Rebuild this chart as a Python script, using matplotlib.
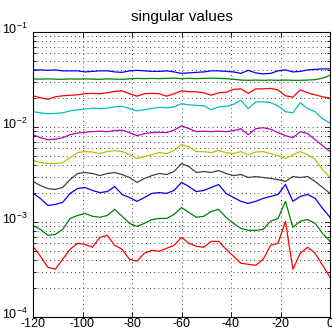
import numpy as np
import matplotlib
matplotlib.use('Agg')
import matplotlib.pyplot as plt
from matplotlib.ticker import FixedLocator, FixedFormatter, LogLocator, NullFormatter
from matplotlib.transforms import ScaledTranslation

plt.rcParams['font.family'] = ['Liberation Sans', 'DejaVu Sans']
plt.rcParams['axes.unicode_minus'] = False

# sample positions (lag)
x = [-120, -117, -114, -111, -108, -105, -102, -99, -96, -93, -90,
     -87, -84, -81, -78, -75, -72, -69, -66, -63, -60,
     -57, -54, -51, -48, -45, -42, -39, -36, -33, -30,
     -27, -24, -21, -18, -15, -12, -9, -6, -3, 0]

sv1 = [0.0399, 0.0399, 0.0395, 0.0399, 0.0390, 0.0390, 0.0390, 0.0380, 0.0385, 0.0390, 0.0390,
       0.0380, 0.0376, 0.0390, 0.0395, 0.0390, 0.0385, 0.0385, 0.0390, 0.0380, 0.0367,
       0.0371, 0.0376, 0.0380, 0.0390, 0.0390, 0.0385, 0.0380, 0.0367, 0.0395, 0.0371,
       0.0362, 0.0367, 0.0390, 0.0399, 0.0380, 0.0385, 0.0399, 0.0404, 0.0409, 0.0409]
sv2 = [0.0321, 0.0319, 0.0321, 0.0319, 0.0318, 0.0321, 0.0319, 0.0321, 0.0319, 0.0318, 0.0321,
       0.0319, 0.0318, 0.0321, 0.0325, 0.0323, 0.0325, 0.0323, 0.0325, 0.0327, 0.0323,
       0.0325, 0.0323, 0.0325, 0.0327, 0.0325, 0.0323, 0.0318, 0.0312, 0.0310, 0.0312,
       0.0310, 0.0312, 0.0310, 0.0312, 0.0310, 0.0310, 0.0312, 0.0315, 0.0327, 0.0350]
sv3 = [0.0213, 0.0203, 0.0196, 0.0208, 0.0213, 0.0216, 0.0218, 0.0224, 0.0226, 0.0224, 0.0229,
       0.0237, 0.0240, 0.0224, 0.0211, 0.0224, 0.0226, 0.0224, 0.0211, 0.0224, 0.0240,
       0.0235, 0.0235, 0.0229, 0.0216, 0.0229, 0.0232, 0.0249, 0.0252, 0.0226, 0.0252,
       0.0252, 0.0255, 0.0246, 0.0213, 0.0206, 0.0246, 0.0229, 0.0218, 0.0208, 0.0201]
sv4 = [0.0145, 0.0141, 0.0138, 0.0139, 0.0141, 0.0148, 0.0152, 0.0154, 0.0158, 0.0156, 0.0158,
       0.0163, 0.0165, 0.0156, 0.0148, 0.0152, 0.0156, 0.0161, 0.0159, 0.0163, 0.0176,
       0.0171, 0.0169, 0.0167, 0.0152, 0.0163, 0.0165, 0.0173, 0.0191, 0.0156, 0.0184,
       0.0184, 0.0180, 0.0167, 0.0145, 0.0141, 0.0180, 0.0156, 0.0145, 0.0122, 0.0110]
sv5 = [0.00830, 0.00772, 0.00736, 0.00745, 0.00772, 0.00830, 0.00862, 0.00882, 0.00893, 0.00904, 0.00893,
       0.00915, 0.00926, 0.00872, 0.00810, 0.00851, 0.00872, 0.00882, 0.00872, 0.00926, 0.0103,
       0.00960, 0.00893, 0.00904, 0.00893, 0.00904, 0.00893, 0.00915, 0.00960, 0.00830, 0.00960,
       0.00983, 0.00948, 0.00872, 0.00810, 0.00772, 0.00893, 0.00851, 0.00736, 0.00636, 0.00551]
sv6 = [0.00443, 0.00422, 0.00412, 0.00412, 0.00422, 0.00476, 0.00538, 0.00551, 0.00545, 0.00525, 0.00551,
       0.00565, 0.00551, 0.00512, 0.00465, 0.00488, 0.00512, 0.00538, 0.00525, 0.00565, 0.00652,
       0.00621, 0.00551, 0.00551, 0.00538, 0.00565, 0.00538, 0.00525, 0.00551, 0.00512, 0.00545,
       0.00551, 0.00525, 0.00500, 0.00465, 0.00512, 0.00551, 0.00512, 0.00454, 0.00356, 0.00294]
sv7 = [0.00267, 0.00242, 0.00225, 0.00220, 0.00231, 0.00280, 0.00324, 0.00332, 0.00324, 0.00308, 0.00324,
       0.00332, 0.00316, 0.00294, 0.00261, 0.00287, 0.00308, 0.00324, 0.00316, 0.00340, 0.00412,
       0.00383, 0.00332, 0.00340, 0.00332, 0.00348, 0.00324, 0.00308, 0.00316, 0.00294, 0.00301,
       0.00294, 0.00287, 0.00280, 0.00267, 0.00301, 0.00294, 0.00301, 0.00267, 0.00231, 0.00200]
sv8 = [0.00200, 0.00177, 0.00149, 0.00153, 0.00161, 0.00200, 0.00225, 0.00231, 0.00215, 0.00204, 0.00209,
       0.00236, 0.00195, 0.00181, 0.00165, 0.00181, 0.00200, 0.00204, 0.00200, 0.00215, 0.00261,
       0.00236, 0.00209, 0.00215, 0.00231, 0.00248, 0.00200, 0.00181, 0.00165, 0.00157, 0.00165,
       0.00177, 0.00186, 0.00195, 0.00248, 0.00165, 0.00186, 0.00195, 0.00177, 0.00139, 0.00112]
sv9 = [0.000921, 0.000836, 0.000723, 0.000741, 0.000836, 0.00109, 0.00117, 0.00123, 0.00115, 0.00112, 0.00117,
       0.00136, 0.00115, 0.000967, 0.000899, 0.000967, 0.00106, 0.00109, 0.00109, 0.00120, 0.00142,
       0.00126, 0.00112, 0.00115, 0.00129, 0.00136, 0.00112, 0.000967, 0.000857, 0.000817, 0.000817,
       0.000836, 0.00102, 0.00109, 0.00165, 0.000878, 0.00102, 0.00106, 0.000967, 0.000760, 0.000626]
sv10 = [0.000555, 0.000436, 0.000334, 0.000318, 0.000405, 0.000516, 0.000597, 0.000582, 0.000542, 0.000689, 0.000723,
        0.000569, 0.000516, 0.000405, 0.000386, 0.000469, 0.000504, 0.000492, 0.000529, 0.000569, 0.000689,
        0.000597, 0.000555, 0.000542, 0.000626, 0.000626, 0.000516, 0.000436, 0.000368, 0.000359, 0.000350,
        0.000405, 0.000569, 0.000597, 0.001015, 0.000318, 0.000469, 0.000542, 0.000469, 0.000350, 0.000263]

series = [sv1, sv2, sv3, sv4, sv5, sv6, sv7, sv8, sv9, sv10]

# old matlab colour order, cycling
colors = [(0, 0, 1), (0, 0.5, 0), (1, 0, 0), (0, 0.75, 0.75), (0.75, 0, 0.75),
          (0.75, 0.75, 0), (0.25, 0.25, 0.25), (0, 0, 1), (0, 0.5, 0), (1, 0, 0)]

xticks = [-120, -100, -80, -60, -40, -20, 0]
yticks = [1e-4, 1e-3, 1e-2, 1e-1]
ylabels = [r'$\mathregular{10^{-4}}$', r'$\mathregular{10^{-3}}$',
           r'$\mathregular{10^{-2}}$', r'$\mathregular{10^{-1}}$']

fig = plt.figure(figsize=(3.32, 3.29), dpi=100, facecolor='white')
ax = fig.add_axes([33 / 332, 1 - 317 / 329, 297 / 332, 285 / 329])

for s, c in zip(series, colors):
    ax.plot(x, s, color=c, lw=0.9)

ax.set_yscale('log')
ax.set_xlim(-120, 0)
ax.set_ylim(1e-4, 1e-1)

ax.xaxis.set_major_locator(FixedLocator(xticks))
ax.yaxis.set_major_locator(FixedLocator(yticks))
ax.yaxis.set_major_formatter(FixedFormatter(ylabels))
ax.yaxis.set_minor_locator(LogLocator(base=10, subs=np.arange(2, 10)))
ax.yaxis.set_minor_formatter(NullFormatter())

dots = (0, (1.0, 4.0))
ax.set_axisbelow(True)
ax.grid(True, which='major', axis='both', color='k', lw=0.6, linestyle=dots)
ax.grid(True, which='minor', axis='y', color='k', lw=0.6, linestyle=dots)

ax.tick_params(which='both', direction='in', top=True, right=True, labelsize=9,
               width=0.6, colors='k')
ax.tick_params(which='major', length=3.5)
ax.tick_params(which='minor', length=2)
ax.tick_params(axis='x', pad=1)
ax.tick_params(axis='y', pad=4)
for sp in ax.spines.values():
    sp.set_linewidth(0.8)
    sp.set_color('k')

# nudge the 10^n labels up a little, like the matlab output
up = ScaledTranslation(0, 3 / 72, fig.dpi_scale_trans)
for lab in ax.get_yticklabels():
    lab.set_transform(lab.get_transform() + up)

ax.set_title('singular values', fontsize=11, pad=8)

fig.savefig('out.png', dpi=100, facecolor='white')
